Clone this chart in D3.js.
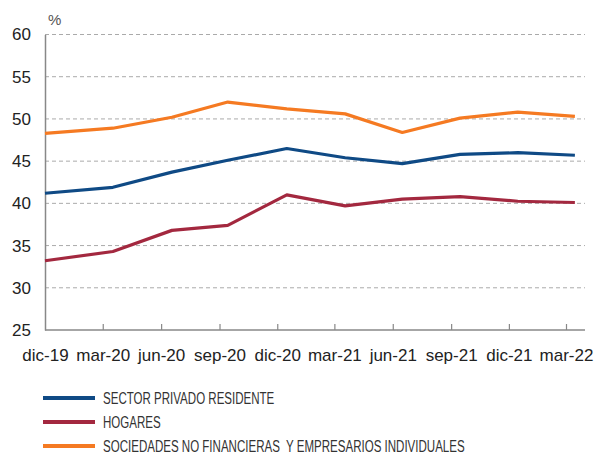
<!DOCTYPE html>
<html><head><meta charset="utf-8">
<script src="https://cdn.jsdelivr.net/npm/d3@7"></script>
<style>body{margin:0;background:#fff}svg{display:block}</style>
</head><body>
<svg id="c" width="598" height="453"></svg>
<script>
const tickDates = ["2019-12-01","2020-03-01","2020-06-01","2020-09-01","2020-12-01","2021-03-01","2021-06-01","2021-09-01","2021-12-01","2022-03-01"];
const tickLabels = ["dic-19","mar-20","jun-20","sep-20","dic-20","mar-21","jun-21","sep-21","dic-21","mar-22"];
const dates = ["2019-12-01","2020-03-17","2020-06-18","2020-09-14","2020-12-16","2021-03-18","2021-06-16","2021-09-15","2021-12-15","2022-03-15"];
const sectorPrivado = [41.2, 41.9, 43.7, 45.1, 46.5, 45.4, 44.7, 45.8, 46.0, 45.7];
const hogares = [33.2, 34.3, 36.8, 37.4, 41.0, 39.7, 40.5, 40.8, 40.25, 40.1];
const sociedades = [48.3, 48.9, 50.2, 52.0, 51.2, 50.6, 48.4, 50.1, 50.8, 50.3];
const seriesNames = ["SECTOR PRIVADO RESIDENTE","HOGARES","SOCIEDADES NO FINANCIERAS  Y EMPRESARIOS INDIVIDUALES"];
const seriesColors = ["#0f4a85","#a3283f","#f57a22"];
const yTicks = [25,30,35,40,45,50,55,60];

const parse = d3.timeParse("%Y-%m-%d");
const svg = d3.select("#c");
const x = d3.scaleTime().domain([parse(tickDates[0]), parse(tickDates[tickDates.length-1])]).range([45, 566]);
const xEnd = 585;
const y = d3.scaleLinear().domain([25, 60]).range([330, 34.5]);

// gridlines
svg.append("g").selectAll("line").data(yTicks.filter(d => d > 25)).join("line")
  .attr("x1", 45).attr("x2", xEnd)
  .attr("y1", d => y(d)).attr("y2", d => y(d))
  .attr("stroke", "#aaa").attr("stroke-width", 1).attr("stroke-dasharray", "4,3");

// y axis
const yAxis = svg.append("g").attr("transform", "translate(45,0)")
  .call(d3.axisLeft(y).tickValues(yTicks).tickSize(0).tickPadding(14));
yAxis.select(".domain").attr("stroke", "#888").attr("stroke-width", 1.5);
yAxis.selectAll("text").attr("font-family", "Liberation Sans, Arial, sans-serif").attr("font-size", 17).attr("fill", "#222");

// x axis
const xAxis = svg.append("g").attr("transform", "translate(0,330)")
  .call(d3.axisBottom(x).tickValues(tickDates.map(parse)).tickFormat((d,i) => tickLabels[i]).tickSize(0).tickPadding(19));
xAxis.select(".domain").remove();
xAxis.append("line").attr("x1", 45).attr("x2", xEnd).attr("y1", 0).attr("y2", 0).attr("stroke", "#888").attr("stroke-width", 1.5);
xAxis.selectAll(".tick").filter((d,i) => i > 0).append("line").attr("y1", 0).attr("y2", -6).attr("stroke", "#888").attr("stroke-width", 1.2);
xAxis.selectAll("text").attr("font-family", "Liberation Sans, Arial, sans-serif").attr("font-size", 17).attr("fill", "#222");

svg.append("text").attr("x", 48).attr("y", 25).text("%")
  .attr("font-family", "Liberation Sans, Arial, sans-serif").attr("font-size", 15).attr("fill", "#555");

const line = d3.line().x((d,i) => x(parse(dates[i]))).y(d => y(d));
[sectorPrivado, hogares, sociedades].forEach((s, k) => {
  svg.append("path").datum(s).attr("d", line).attr("fill", "none")
    .attr("stroke", seriesColors[k]).attr("stroke-width", 3.2).attr("stroke-linejoin", "round");
});

// legend
const lg = svg.append("g");
seriesNames.forEach((n, k) => {
  const yy = 398 + k * 24;
  lg.append("line").attr("x1", 43).attr("x2", 95).attr("y1", yy).attr("y2", yy)
    .attr("stroke", seriesColors[k]).attr("stroke-width", 4);
  const t = lg.append("text").attr("x", 103).attr("y", yy + 5.5)
    .style("white-space", "pre").text(n)
    .attr("font-family", "Liberation Sans, Arial, sans-serif").attr("font-size", 15.8).attr("fill", "#333");
  const w = t.node().getComputedTextLength();
  t.attr("textLength", w * 0.73).attr("lengthAdjust", "spacingAndGlyphs");
});
</script>
</body></html>
